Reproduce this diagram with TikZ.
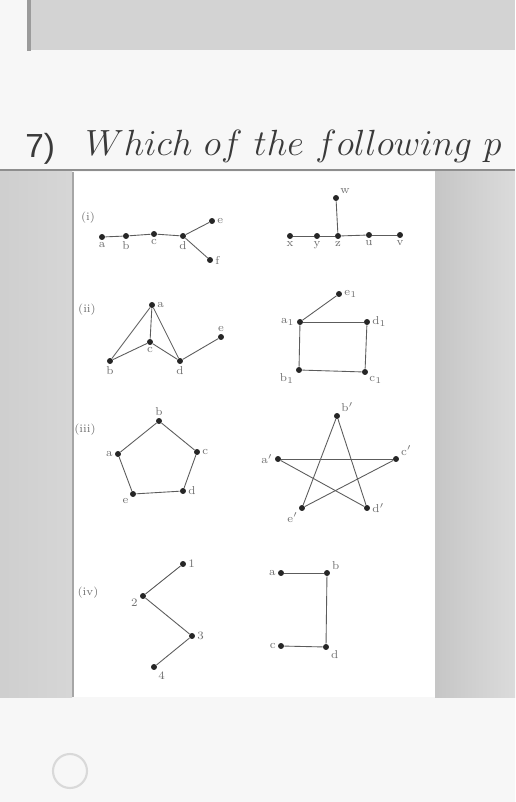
\documentclass[tikz,border=0pt]{standalone}
\usepackage{fontspec}
\usepackage{tikz}
\newfontfamily\qnumfont{Liberation Sans}
\definecolor{qzbg}{HTML}{F7F7F7}
\definecolor{qzbox}{HTML}{D3D3D3}
\definecolor{qzedge}{HTML}{9B9B9B}
\definecolor{qzrule}{HTML}{8E8E8E}
\definecolor{qzside}{HTML}{CBCBCB}
\definecolor{qzink}{HTML}{262626}
\definecolor{qzlbl}{HTML}{707070}
\definecolor{qztext}{HTML}{3A3A3A}
\tikzset{
  vtx/.style={circle,fill=qzink,inner sep=0pt,minimum size=3.4pt},
  edg/.style={draw=qzink!75,line width=0.5pt},
  lbl/.style={font=\fontsize{6.5}{7}\selectfont,text=qzlbl,inner sep=1pt},
  sec/.style={font=\fontsize{6.5}{7}\selectfont,text=qzlbl},
}

\begin{document}
\begin{tikzpicture}[x=0.02cm,y=-0.02cm]
  \useasboundingbox (0,0) rectangle (515,802);
  \fill[qzbg] (0,0) rectangle (515,802);
  % answer field of the question before
  \fill[qzbox] (27,0) rectangle (515,50);
  \fill[qzedge] (27,0) rectangle (31,51);
  % question line
  \node[anchor=base west,inner sep=0pt,text=qztext,font=\qnumfont\fontsize{19}{22}\selectfont] (qnum) at (25,157) {7)};
  \node[anchor=base west,inner sep=0pt,text=qztext,font=\fontsize{21.6}{26}\selectfont] (qtext) at (85,155) {$Which\ of\ the\ following\ p$};
  \draw[qzrule,line width=1.2pt] (0,170) -- (515,170);
  % scanned sheet
  \shade[left color=gray!38,right color=gray!32] (0,171) rectangle (72,697);
  \shade[left color=gray!45,right color=gray!28] (435,171) rectangle (515,697);
  \fill[white] (72,172) rectangle (435,697);
  \draw[gray!70,line width=1pt] (73,172) -- (73,697);
  \node[sec] (si) at (88,218) {(i)};
  \node[sec] (sii) at (87,310) {(ii)};
  \node[sec] (siii) at (85,430) {(iii)};
  \node[sec] (siv) at (88,593) {(iv)};
  \foreach \n/\x/\y/\p/\l in {%
    pa/102/237/below/a, pb/126/236/below/b, pc/154/234/below/c,
    pd/183/236/below/d, pe/212/221/right/e, pf/210/260/right/f,
    qx/290/236/below/x, qy/317/236/below/y, qz/338/236/below/z,
    qw/336/198/45/w, qu/369/235/below/u, qv/400/235/below/v,
    ra/152/305/right/a, rc/150/342/below/c, rb/110/361/below/b,
    rd/180/361/below/d, re/221/337/above/e,
    sa/300/322/left/a$_1$, se/339/294/right/e$_1$, sd/367/322/right/d$_1$,
    sb/299/370/210/b$_1$, sc/365/372/-45/c$_1$,
    tb/159/421/above/b, tc/197/452/right/c, td/183/491/right/d,
    te/133/494/225/e, ta/118/454/left/a,
    ub/337/416/45/b$'$, ua/278/459/left/a$'$, uc/396/459/30/c$'$,
    ud/367/508/right/d$'$, ue/302/508/235/e$'$,
    v2/143/596/190/2, v1/183/564/right/1, v3/192/636/right/3, v4/154/667/-45/4,
    wa/281/573/left/a, wb/327/573/20/b, wd/326/647/-30/d, wc/281/646/left/c}{%
    \node[vtx,label={[lbl]\p:\l}] (\n) at (\x,\y) {};}
  \foreach \u/\v in {pa/pb,pb/pc,pc/pd,pd/pe,pd/pf,
    qx/qy,qy/qz,qz/qu,qu/qv,qz/qw,
    ra/rb,ra/rc,ra/rd,rb/rc,rc/rd,rd/re,
    sa/se,sa/sd,sa/sb,sb/sc,sc/sd,
    ta/tb,tb/tc,tc/td,td/te,te/ta,
    ua/uc,ua/ud,ub/ue,ub/ud,uc/ue,
    v2/v1,v2/v3,v3/v4,
    wa/wb,wb/wd,wd/wc}
    \draw[edg] (\u) -- (\v);
  % answer option
  \node[circle,draw=gray!30,line width=1.2pt,minimum size=0.68cm] (opt) at (70,771) {};
\end{tikzpicture}
\end{document}
